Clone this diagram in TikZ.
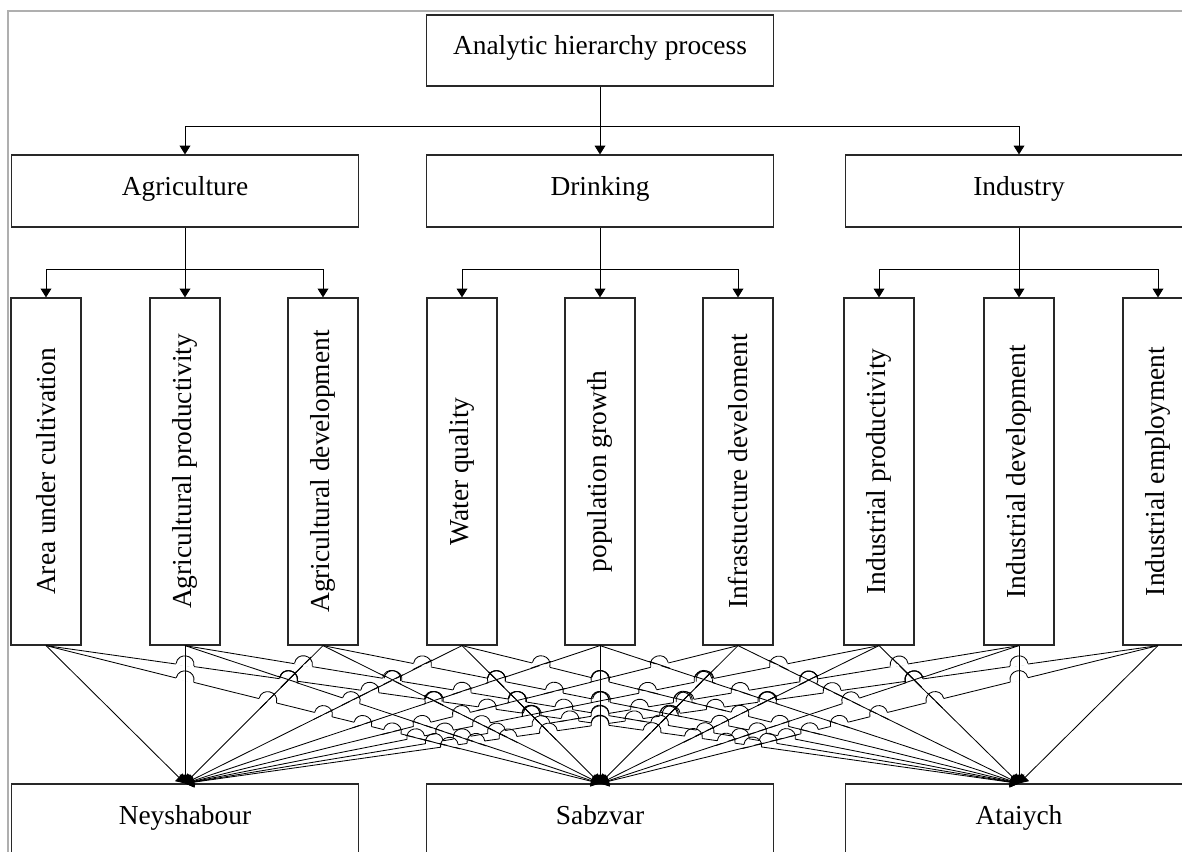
\documentclass[tikz,border=0pt]{standalone}
\usepackage{fontspec}
\setmainfont{Liberation Serif}
\usepackage{tikz}
\usetikzlibrary{arrows.meta}
\definecolor{framegray}{RGB}{175,175,175}
\definecolor{boxline}{RGB}{40,40,40}

% x positions (px) of the criteria and of the three alternatives
\def\critx{{46,185,323,462,600,738,879,1019,1158}}
\def\altx{{185,600,1019}}
\def\hoprad{9}

% line jumps: the flatter line hops over the steeper one
% #1=1 erases the straight piece, #1=2 draws the hop
\newcommand{\linehops}[1]{%
  \foreach \ia in {1,...,9}{\foreach \ja in {1,2,3}{%
  \foreach \ib in {1,...,9}{\foreach \jb in {1,2,3}{%
    \ifnum\ia=\ib\else\ifnum\ja=\jb\else
      \pgfmathsetmacro\hpa{\critx[\ia-1]}%
      \pgfmathsetmacro\hda{\altx[\ja-1]-\hpa}%
      \pgfmathsetmacro\hpb{\critx[\ib-1]}%
      \pgfmathsetmacro\hdb{\altx[\jb-1]-\hpb}%
      \pgfmathtruncatemacro\hok{(abs(\hda)>abs(\hdb)) && (abs((\hda)-(\hdb))>0.5)}%
      \ifnum\hok=1
        \pgfmathsetmacro\hs{(\hpb-\hpa)/((\hda)-(\hdb))}%
        \pgfmathtruncatemacro\hok{(\hs>0.04) && (\hs<0.96)}%
        \ifnum\hok=1
          \pgfmathsetmacro\hla{100*veclen((\hda)/100,1.39)}%
          \pgfmathsetmacro\hux{(\hda)/\hla}%
          \pgfmathsetmacro\huy{139/\hla}%
          \pgfmathsetmacro\hx{\hpa+\hs*(\hda)}%
          \pgfmathsetmacro\hy{645+139*\hs}%
          \pgfmathsetmacro\hxs{\hx-\hoprad*(\hux)}%
          \pgfmathsetmacro\hys{\hy-\hoprad*\huy}%
          \pgfmathsetmacro\hxe{\hx+\hoprad*(\hux)}%
          \pgfmathsetmacro\hye{\hy+\hoprad*\huy}%
          \ifnum#1=1
            \draw[white, line width=1.8pt] (\hxs,\hys) -- (\hxe,\hye);
          \else
            \pgfmathsetmacro\hlb{100*veclen((\hdb)/100,1.39)}%
            \pgfmathsetmacro\hvx{1.2*\hoprad*(\hdb)/\hlb}%
            \pgfmathsetmacro\hvy{1.2*\hoprad*139/\hlb}%
            \pgfmathsetmacro\hsg{(\hda>0) ? 1 : -1}%
            \pgfmathsetmacro\hnx{1.33*\hoprad*(\hsg)*\huy}%
            \pgfmathsetmacro\hny{-1.33*\hoprad*(\hsg)*(\hux)}%
            \draw[link line] ({\hx-(\hvx)},{\hy-(\hvy)}) -- ({\hx+(\hvx)},{\hy+(\hvy)});
            \draw[link line] (\hxs,\hys) .. controls ({\hxs+(\hnx)},{\hys+(\hny)}) and ({\hxe+(\hnx)},{\hye+(\hny)}) .. (\hxe,\hye);
          \fi
        \fi
      \fi
    \fi\fi
  }}}}}

\begin{document}
\begin{tikzpicture}[x=0.025cm, y=-0.025cm,
  every node/.style={font=\fontsize{19.5}{23}\selectfont, inner sep=0pt},
  box/.style={draw=boxline, line width=0.8pt, minimum width=8.675cm, minimum height=1.8cm,
    text height=0.7em, text depth=0.1em},
  critbox/.style={draw=boxline, line width=0.8pt, minimum width=1.75cm, minimum height=8.675cm},
  arr/.style={line width=0.6pt, -{Triangle[length=0.22cm, width=0.27cm]}},
  link line/.style={line width=0.6pt}]
  \useasboundingbox (0,0) rectangle (1182,852);
  \clip (0,0) rectangle (1182,852);
  \draw[framegray, line width=0.8pt] (8,852) -- (8,11) -- (1182,11);

  % goal and groups
  \node[box, minimum height=1.775cm] (ahp) at (600,50.5) {Analytic hierarchy process};
  \node[box] (agri) at (185,191) {Agriculture};
  \node[box] (drink) at (600,191) {Drinking};
  \node[box] (ind) at (1019,191) {Industry};

  % criteria
  \foreach \x/\name/\txt in {46/c1/Area under cultivation, 185/c2/Agricultural productivity,
      323/c3/Agricultural development, 462/c4/Water quality, 600/c5/population growth,
      738/c6/Infrastucture develoment, 879/c7/Industrial productivity,
      1019/c8/Industrial development, 1158/c9/Industrial employment}
    \node[critbox] (\name) at (\x,471.5) {\rotatebox{90}{\txt}};

  % alternatives
  \node[box] (ney) at (185,820) {Neyshabour};
  \node[box] (sab) at (600,820) {Sabzvar};
  \node[box] (ata) at (1019,820) {Ataiych};

  \coordinate (bus) at (600,126);
  \draw[arr] (ahp.south) -- (drink.north);
  \draw[arr] (bus) -| (agri.north);
  \draw[arr] (bus) -| (ind.north);

  \foreach \g/\ca/\cb/\cc in {agri/c1/c2/c3, drink/c4/c5/c6, ind/c7/c8/c9}{
    \draw[arr] (\g.south) -- (\cb.north);
    \draw[arr] (\g.south) ++(0,42) -| (\ca.north);
    \draw[arr] (\g.south) ++(0,42) -| (\cc.north);
  }

  % every criterion to every alternative
  \foreach \i in {1,...,9}
    \foreach \alt in {ney,sab,ata}
      \draw[arr, line width=0.6pt] (c\i.south) -- (\alt.north);
  \linehops{1}
  \linehops{2}
\end{tikzpicture}
\end{document}
